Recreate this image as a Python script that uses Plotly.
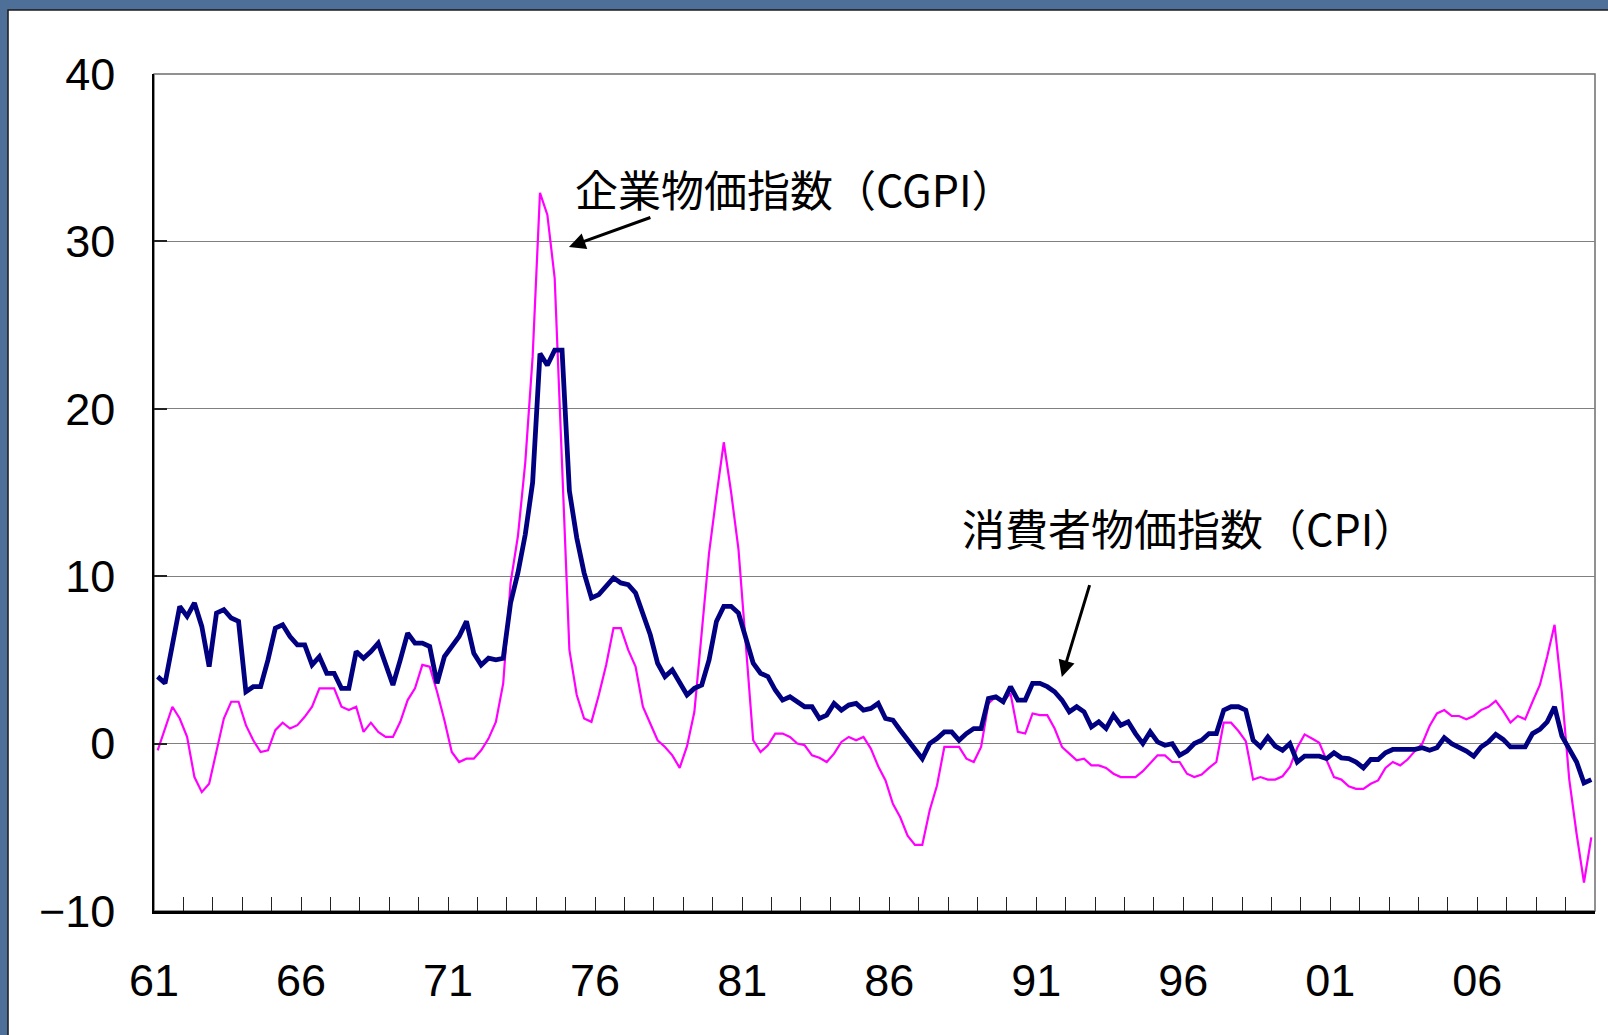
import plotly.graph_objects as go

# 前年比（％）、四半期、1961Q1〜2009Q4
cgpi = [
    -0.4, 0.9, 2.2, 1.5, 0.4, -2.0, -2.9, -2.4,
    -0.4, 1.5, 2.5, 2.5, 1.1, 0.2, -0.5, -0.4,
    0.8, 1.25, 0.9, 1.1, 1.6, 2.2, 3.3, 3.3,
    3.3, 2.2, 2.0, 2.2, 0.7, 1.25, 0.7, 0.4,
    0.4, 1.3, 2.6, 3.3, 4.7, 4.6, 3.1, 1.4,
    -0.5, -1.1, -0.9, -0.9, -0.4, 0.3, 1.3, 3.6,
    9.6, 12.4, 16.8, 23.1, 32.9, 31.6, 27.8, 16.7,
    5.6, 2.9, 1.5, 1.3, 2.9, 4.7, 6.9, 6.9,
    5.6, 4.6, 2.2, 1.2, 0.2, -0.2, -0.7, -1.45,
    -0.15, 1.9, 6.6, 11.4, 14.8, 18.0, 15.0, 11.6,
    5.9, 0.2, -0.5, -0.1, 0.6, 0.6, 0.4, 0.0,
    -0.1, -0.7, -0.85, -1.1, -0.6, 0.1, 0.4, 0.2,
    0.4, -0.3, -1.35, -2.2, -3.6, -4.4, -5.5, -6.05,
    -6.05, -4.0, -2.5, -0.2, -0.2, -0.2, -0.9, -1.1,
    -0.2, 2.4, 2.8, 2.5, 3.0, 0.7, 0.6, 1.8,
    1.7, 1.7, 0.9, -0.2, -0.6, -1.0, -0.9, -1.3,
    -1.3, -1.45, -1.8, -2.0, -2.0, -2.0, -1.65, -1.15,
    -0.7, -0.7, -1.1, -1.1, -1.8, -2.0, -1.85, -1.45,
    -1.1, 1.25, 1.25, 0.75, 0.15, -2.15, -2.0, -2.15,
    -2.15, -1.95, -1.4, -0.25, 0.55, 0.3, 0.05, -1.0,
    -2.0, -2.15, -2.55, -2.7, -2.7, -2.4, -2.2, -1.45,
    -1.1, -1.3, -0.95, -0.45, 0.0, 1.05, 1.8, 2.0,
    1.65, 1.65, 1.45, 1.65, 2.0, 2.2, 2.55, 1.95,
    1.25, 1.65, 1.45, 2.5, 3.5, 5.2, 7.1, 3.0,
    -2.15, -5.4, -8.3, -5.6,
]

cpi = [
    4.0, 3.6, 5.9, 8.2, 7.6, 8.4, 7.0, 4.6,
    7.8, 8.0, 7.5, 7.3, 3.1, 3.4, 3.4, 5.0,
    6.9, 7.1, 6.4, 5.9, 5.9, 4.7, 5.2, 4.2,
    4.2, 3.3, 3.3, 5.5, 5.1, 5.5, 6.0, 4.8,
    3.5, 5.0, 6.6, 6.0, 6.0, 5.8, 3.6, 5.2,
    5.8, 6.4, 7.3, 5.4, 4.7, 5.1, 5.0, 5.1,
    8.4, 10.2, 12.5, 15.6, 23.3, 22.6, 23.5, 23.5,
    15.1, 12.3, 10.2, 8.7, 8.9, 9.4, 9.9, 9.6,
    9.5, 9.0, 7.7, 6.5, 4.8, 4.0, 4.4, 3.6,
    2.9, 3.3, 3.5, 5.0, 7.3, 8.2, 8.2, 7.8,
    6.2, 4.8, 4.2, 4.0, 3.2, 2.6, 2.8, 2.5,
    2.2, 2.2, 1.5, 1.7, 2.4, 2.0, 2.3, 2.4,
    2.0, 2.1, 2.4, 1.5, 1.4, 0.8, 0.2, -0.3,
    -0.9, 0.0, 0.3, 0.7, 0.7, 0.2, 0.6, 0.9,
    0.9, 2.7, 2.8, 2.5, 3.4, 2.6, 2.6, 3.6,
    3.6, 3.4, 3.1, 2.6, 1.9, 2.2, 1.9, 1.0,
    1.3, 0.9, 1.7, 1.1, 1.3, 0.6, 0.0, 0.7,
    0.1, -0.1, 0.0, -0.7, -0.45, 0.0, 0.2, 0.6,
    0.6, 2.0, 2.2, 2.2, 2.0, 0.2, -0.2, 0.4,
    -0.15, -0.4, 0.0, -1.1, -0.75, -0.75, -0.75, -0.9,
    -0.55, -0.85, -0.9, -1.1, -1.45, -0.95, -0.95, -0.55,
    -0.35, -0.35, -0.35, -0.35, -0.25, -0.4, -0.25, 0.35,
    0.0, -0.2, -0.45, -0.75, -0.2, 0.1, 0.55, 0.25,
    -0.2, -0.2, -0.2, 0.6, 0.85, 1.3, 2.2, 0.45,
    -0.35, -1.1, -2.35, -2.15,
]

first_year = 1961
last_year = 2010
label_years = [1961, 1966, 1971, 1976, 1981, 1986, 1991, 1996, 2001, 2006]
label_text = ["61", "66", "71", "76", "81", "86", "91", "96", "01", "06"]

# 四半期の中央に点を置く
quarters = [first_year + (i + 0.5) / 4 for i in range(len(cpi))]

years = list(range(first_year, last_year + 1))
year_text = [label_text[label_years.index(y)] if y in label_years else "" for y in years]

bg_blue = "#4e6f98"

fig = go.Figure()

fig.add_trace(go.Scatter(
    x=quarters, y=cgpi, mode="lines", name="企業物価指数(CGPI)",
    line=dict(color="#ff00ff", width=2.2),
))
fig.add_trace(go.Scatter(
    x=quarters, y=cpi, mode="lines", name="消費者物価指数(CPI)",
    line=dict(color="#000080", width=4.8),
))

tick_font = dict(family="Liberation Sans, Arial, sans-serif", size=45, color="black")
jp_font = dict(family="Noto Sans CJK JP", size=43, color="black")

fig.update_layout(
    width=1608, height=1035,
    margin=dict(l=154, r=13, t=74, b=124),
    paper_bgcolor=bg_blue,
    plot_bgcolor="white",
    showlegend=False,
    xaxis=dict(
        range=[first_year, last_year],
        tickmode="array", tickvals=years, ticktext=year_text,
        ticks="inside", ticklen=14, tickcolor="#222", tickwidth=1,
        showgrid=False, zeroline=False,
        showline=True, linecolor="black", linewidth=2.5,
        tickfont=tick_font, ticklabelstandoff=28,
    ),
    yaxis=dict(
        range=[-10, 40], dtick=10,
        ticks="inside", ticklen=13, tickcolor="#222", tickwidth=1.5,
        showgrid=True, gridcolor="#808080", gridwidth=1.3,
        zeroline=False,
        showline=True, linecolor="black", linewidth=1.5,
        tickfont=tick_font, ticklabelstandoff=28,
    ),
    shapes=[
        # 白いパネル
        dict(type="rect", xref="paper", yref="paper",
             x0=-0.1013, x1=1.02, y0=-0.2, y1=1.0765,
             fillcolor="white", line=dict(color="#1a1a1a", width=1.5), layer="below"),
        # プロット枠
        dict(type="rect", xref="x domain", yref="y domain",
             x0=0, x1=1, y0=0, y1=1,
             line=dict(color="#6e6e6e", width=1.5), layer="below"),
    ],
)

# ラベルと矢印
fig.add_annotation(x=1982.8, y=33.2, text="企業物価指数（CGPI）", showarrow=False, font=jp_font)
fig.add_annotation(x=1996.2, y=12.94, text="消費者物価指数（CPI）", showarrow=False, font=jp_font)
fig.add_annotation(x=1975.11, y=29.67, ax=1977.93, ay=31.46, axref="x", ayref="y",
                   text="", showarrow=True, arrowhead=2, arrowsize=1.1, arrowwidth=3, arrowcolor="black")
fig.add_annotation(x=1991.87, y=3.98, ax=1992.83, ay=9.56, axref="x", ayref="y",
                   text="", showarrow=True, arrowhead=2, arrowsize=1.1, arrowwidth=3, arrowcolor="black")

fig.write_html(
    "out.html",
    config={"displayModeBar": False},
    post_script=f"document.body.style.margin='0';document.body.style.background='{bg_blue}';",
)
